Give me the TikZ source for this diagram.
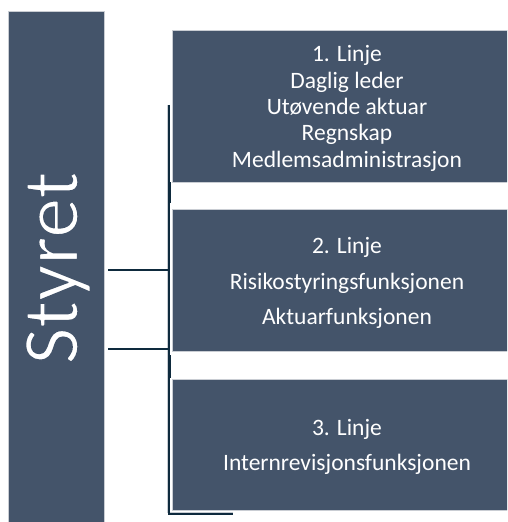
\documentclass[tikz,border=0pt]{standalone}
\usepackage{fontspec}
\setmainfont{Carlito}
\definecolor{boxfill}{HTML}{44546A}
\definecolor{boxedge}{HTML}{C9CDD3}
\definecolor{linedark}{HTML}{0E2A3D}
\newcommand{\thinstroke}{\special{pdf:literal direct 2 Tr 1 j 1.4 w 0.267 0.329 0.416 RG}}
\newcommand{\normalstroke}{\special{pdf:literal direct 0 Tr}}
\tikzset{
  panel/.style={fill=boxfill, draw=boxedge, line width=0.8pt, inner sep=0pt},
  paneltext/.style={text=white, align=center, inner sep=0pt},
  bus/.style={draw=linedark, line width=1.3pt},
  busedge/.style={draw=boxedge, line width=0.7pt},
  busthick/.style={draw=linedark, line width=3pt},
}
\begin{document}
\begin{tikzpicture}[x=1pt,y=1pt]
\useasboundingbox (0,0) rectangle (507,522);
\clip (0,0) rectangle (507,522);
\fill[white] (0,0) rectangle (507,522);
% left box
\node[panel, minimum width=96pt, minimum height=511pt] (styret) at (56,255.5) {};
\node[rotate=90, anchor=base, text=white, inner sep=0pt, font=\fontsize{80}{82}\selectfont] (styrettxt) at (77.5,254) {\thinstroke Styret\normalstroke};
% right boxes
\node[panel, minimum width=350pt, minimum height=152pt] (l1) at (347,416) {};
\node[paneltext, font=\fontsize{23.5}{26.3}\selectfont] (l1t) at ([yshift=-2.5pt]l1.center)
  {1. Linje\\Daglig leder\\Utøvende aktuar\\Regnskap\\Medlemsadministrasjon};
\node[panel, minimum width=350pt, minimum height=142pt] (l2) at (347,242) {};
\node[paneltext, font=\fontsize{23.5}{35.5}\selectfont] (l2t) at ([yshift=-3pt]l2.center)
  {2. Linje\\Risikostyringsfunksjonen\\Aktuarfunksjonen};
\node[panel, minimum width=350pt, minimum height=131pt] (l3) at (347,77.5) {};
\node[paneltext, font=\fontsize{23.5}{35.5}\selectfont] (l3t) at ([yshift=-2.5pt]l3.center)
  {3. Linje\\Internrevisjonsfunksjonen};
% bus coordinates
\coordinate (bt) at (169,417);
\coordinate (bb) at (169,8);
\coordinate (be) at (233,8);
\coordinate (c1) at (169,252);
\coordinate (c2) at (169,173);
% light edge of bus
\draw[busedge] ([xshift=-1.3pt]bt) -- ([xshift=-1.3pt,yshift=1.3pt]bb) -- ([yshift=1.3pt]be);
% bus
\draw[bus] (bt) -- (bb) -- (be);
\draw[busthick] (l1.south -| bt) -- ([yshift=-21pt]l1.south -| bt);
\draw[busthick] ([yshift=1pt]l3.north -| bt) -- ([yshift=24pt]l3.north -| bt);
% connectors
\draw[bus] ([xshift=4pt]styret.east |- c1) -- (c1);
\draw[bus] ([xshift=4pt]styret.east |- c2) -- (c2);
\end{tikzpicture}
\end{document}
